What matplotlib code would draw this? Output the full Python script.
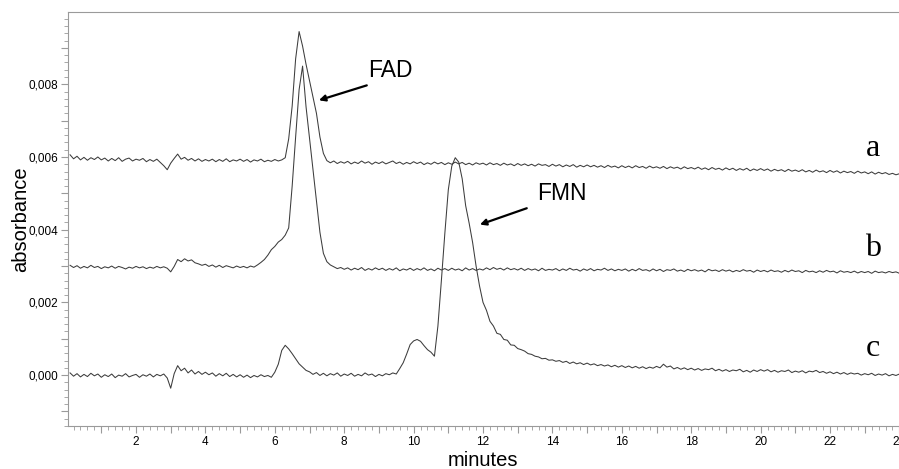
import numpy as np
import matplotlib.pyplot as plt
from matplotlib.ticker import MultipleLocator, FuncFormatter

plt.rcParams['font.family'] = ['Liberation Sans', 'DejaVu Sans']

# temps de rétention (min), un point tous les 0,1 min
minutes = np.round(np.arange(1, 241) / 10, 1)

trace_a = [
    60.6, 59.5, 60.2, 59.2, 59.9, 59.1, 59.8, 59.3, 60.0, 59.2,
    59.7, 58.9, 59.6, 59.0, 59.8, 58.8, 59.4, 59.7, 58.9, 59.4,
    59.1, 59.6, 58.7, 59.3, 58.8, 59.4, 58.5, 57.6, 56.5, 58.3,
    59.6, 60.8, 59.4, 59.9, 59.1, 59.6, 58.9, 59.5, 58.8, 59.3,
    58.9, 59.4, 58.7, 59.3, 58.8, 59.5, 58.7, 59.2, 58.9, 59.4,
    58.8, 59.3, 58.6, 59.2, 58.9, 59.4, 58.7, 59.1, 58.8, 59.3,
    58.9, 59.2, 59.8, 65.0, 74.0, 87.0, 94.5, 90.5, 85.5, 81.0,
    76.5, 72.0, 65.5, 61.0, 59.0, 58.4, 58.9, 58.2, 58.7, 58.3,
    58.8, 58.1, 58.6, 58.2, 58.9, 58.3, 58.7, 58.0, 58.6, 58.2,
    58.7, 58.1, 58.5, 58.9, 58.2, 58.6, 58.0, 58.5, 58.1, 58.7,
    58.2, 58.6, 57.9, 58.4, 58.0, 58.6, 58.1, 58.5, 57.9, 58.4,
    58.0, 58.6, 58.1, 58.5, 57.9, 58.3, 57.8, 58.4, 58.0, 58.3,
    57.8, 58.4, 57.9, 58.2, 57.7, 58.3, 57.8, 58.1, 57.6, 58.2,
    57.7, 58.1, 57.6, 58.0, 57.5, 58.1, 57.7, 57.9, 57.4, 58.0,
    57.5, 57.9, 57.3, 57.8, 57.4, 57.9, 57.2, 57.7, 57.3, 57.8,
    57.3, 57.7, 57.2, 57.6, 57.1, 57.7, 57.2, 57.5, 57.0, 57.6,
    57.1, 57.5, 57.0, 57.6, 57.1, 57.4, 56.9, 57.5, 57.0, 57.3,
    56.9, 57.4, 56.8, 57.3, 56.9, 57.2, 56.7, 57.3, 56.8, 57.1,
    56.7, 57.2, 56.6, 57.0, 56.5, 57.1, 56.6, 56.9, 56.4, 57.0,
    56.5, 56.9, 56.3, 56.8, 56.4, 56.9, 56.2, 56.7, 56.3, 56.8,
    56.3, 56.7, 56.1, 56.6, 56.2, 56.5, 56.0, 56.6, 56.1, 56.4,
    56.0, 56.5, 55.9, 56.3, 55.8, 56.4, 55.9, 56.2, 55.7, 56.3,
    55.8, 56.2, 55.6, 56.1, 55.7, 56.0, 55.5, 56.1, 55.6, 55.9,
    55.4, 55.9, 55.3, 55.8, 55.4, 55.7, 55.2, 55.5, 55.1, 55.4,
]

trace_b = [
    30.2, 29.6, 30.1, 29.4, 29.9, 29.5, 30.2, 29.6, 29.9, 29.3,
    29.8, 29.5, 30.0, 29.4, 29.9, 29.6, 29.2, 29.7, 29.4, 29.9,
    29.5, 29.8, 29.3, 29.7, 29.4, 29.9, 29.5, 29.8, 29.4, 28.4,
    29.9, 31.8, 31.2, 32.0, 31.4, 31.7, 30.9, 30.6, 30.2, 30.5,
    29.9, 30.3, 29.7, 30.2, 29.6, 30.1, 29.8, 29.5, 30.0, 29.6,
    29.9, 29.5, 30.0, 29.7, 30.3, 31.0, 31.8, 33.0, 34.5, 35.4,
    36.6, 37.3, 38.5, 40.5, 52.0, 65.5, 78.5, 85.0, 73.8, 65.2,
    56.6, 48.0, 39.3, 33.5, 31.2, 30.3, 29.8, 29.3, 29.6, 29.1,
    29.5, 28.9, 29.4, 29.0, 29.6, 28.8, 29.3, 28.9, 29.5, 29.0,
    29.4, 28.8, 29.3, 28.9, 29.5, 28.7, 29.2, 28.9, 29.4, 28.8,
    29.3, 28.9, 29.5, 28.8, 29.2, 28.7, 29.4, 28.9, 29.3, 28.8,
    29.4, 28.9, 29.2, 28.7, 29.5, 28.9, 29.3, 28.8, 29.2, 28.9,
    29.5, 29.0, 29.6, 29.1, 29.4, 28.9, 29.5, 29.0, 29.3, 28.9,
    29.4, 28.8, 29.3, 28.9, 29.2, 28.7, 29.4, 28.8, 29.1, 28.9,
    29.3, 28.7, 29.2, 28.8, 29.4, 28.9, 29.1, 28.6, 29.2, 28.8,
    29.3, 28.7, 29.1, 28.9, 29.4, 28.8, 29.2, 28.7, 29.1, 28.8,
    29.2, 28.6, 29.1, 28.7, 29.3, 28.8, 29.0, 28.6, 29.2, 28.7,
    29.1, 28.5, 29.0, 28.8, 29.2, 28.6, 28.9, 28.5, 29.1, 28.7,
    29.0, 28.6, 28.9, 28.4, 29.1, 28.7, 28.9, 28.5, 29.0, 28.6,
    28.9, 28.4, 28.8, 28.5, 29.0, 28.6, 28.8, 28.3, 28.9, 28.5,
    28.8, 28.4, 28.9, 28.5, 28.7, 28.3, 28.8, 28.4, 28.9, 28.5,
    28.7, 28.2, 28.8, 28.4, 28.6, 28.2, 28.7, 28.3, 28.8, 28.4,
    28.6, 28.1, 28.7, 28.3, 28.5, 28.2, 28.6, 28.1, 28.5, 28.2,
    28.5, 28.0, 28.6, 28.2, 28.4, 28.1, 28.5, 28.2, 28.4, 28.0,
]

trace_c = [
    0.6, -0.3, 0.4, -0.5, 0.2, -0.4, 0.5, -0.2, 0.3, -0.6,
    0.1, -0.4, 0.3, -0.7, 0.0, -0.3, 0.4, -0.5, -0.1, 0.2,
    -0.6, 0.1, -0.3, 0.3, -0.5, 0.2, -0.2, 0.3, -0.8, -3.6,
    0.4, 2.6, 1.2, 1.9, 0.6, 1.4, 0.3, 1.0, 0.2, 0.8,
    0.1, 0.6, -0.3, 0.4, -0.2, 0.5, -0.4, 0.2, -0.5, 0.1,
    -0.6, 0.0, -0.7, -0.1, -0.5, 0.1, -0.4, -0.1, -0.6, 0.8,
    3.0, 6.8, 8.2, 7.2, 5.9, 4.5, 3.1, 2.2, 1.3, 0.9,
    0.2, 0.7, -0.1, 0.5, -0.2, 0.4, 0.0, 0.6, -0.3, 0.3,
    -0.1, 0.5, -0.3, 0.2, -0.2, 0.6, 0.0, 0.3, -0.4, 0.2,
    -0.2, 0.4, 0.1, 0.6, 0.3, 1.8, 3.4, 5.8, 8.4, 9.4,
    9.8, 9.3, 8.1, 7.0, 6.3, 5.2, 13.5, 26.0, 39.0, 51.0,
    57.5, 59.8, 58.6, 54.0, 46.6, 41.8, 36.5, 30.0, 24.5, 20.0,
    17.8, 14.8, 13.5, 11.5, 11.2, 9.8, 9.6, 8.3, 8.2, 7.3,
    7.0, 6.6, 5.9, 5.7, 5.2, 5.0, 4.5, 4.6, 4.1, 4.2,
    3.8, 4.0, 3.5, 3.8, 3.2, 3.6, 3.1, 3.4, 2.9, 3.3,
    2.8, 3.1, 2.6, 2.9, 2.5, 2.8, 2.3, 2.7, 2.2, 2.6,
    2.1, 2.5, 2.0, 2.4, 1.9, 2.3, 1.8, 2.2, 1.9, 2.4,
    2.0, 3.0, 2.2, 2.5, 1.7, 2.1, 1.6, 2.0, 1.5, 1.9,
    1.4, 1.8, 1.3, 1.7, 1.5, 1.9, 1.2, 1.6, 1.1, 1.5,
    1.0, 1.4, 1.2, 1.6, 0.9, 1.3, 0.8, 1.4, 1.0, 1.5,
    1.1, 1.5, 0.9, 1.3, 0.8, 1.2, 1.0, 1.4, 0.7, 1.1,
    0.8, 1.2, 0.6, 1.1, 0.9, 1.3, 0.7, 1.0, 0.5, 0.9,
    0.4, 0.8, 0.3, 0.7, 0.2, 0.6, 0.3, 0.5, 0.0, 0.4,
    0.1, 0.5, -0.1, 0.3, 0.0, 0.4, -0.2, 0.2, -0.1, 0.3,
]

trace_names = ['a', 'b', 'c']
name_pos = [(23.24, 0.00604), (23.24, 0.00327), (23.24, 0.00052)]

# flèches (texte, position du texte, pointe de la flèche)
peak_labels = ['FAD', 'FMN']
peak_text_pos = [(8.69, 0.00838), (13.55, 0.0050)]
peak_arrow_tip = [(7.27, 0.00756), (11.91, 0.00414)]
peak_arrow_tail = [(8.65, 0.00797), (13.26, 0.00459)]

fig = plt.figure(figsize=(8.99, 4.69), dpi=100)
# l'axe dépasse à droite de l'image, comme sur l'original
ax = fig.add_axes([68 / 899, 1 - 426 / 469, 845.3 / 899, 413.7 / 469])

for tr in [trace_a, trace_b, trace_c]:
    ax.plot(minutes, np.array(tr) * 1e-4, color='#3c3c3c', lw=0.75)

ax.set_xlim(0.04, 24.4)
ax.set_ylim(-0.0014, 0.00998)

grey = '#9a9a9a'
for side in ['left', 'top', 'bottom']:
    ax.spines[side].set_color(grey)
ax.spines['right'].set_visible(False)

ax.xaxis.set_major_locator(MultipleLocator(1))
ax.xaxis.set_minor_locator(MultipleLocator(0.2))
ax.yaxis.set_major_locator(MultipleLocator(0.001))
ax.yaxis.set_minor_locator(MultipleLocator(0.0002))
ax.xaxis.set_major_formatter(FuncFormatter(
    lambda v, p: '%d' % round(v) if round(v) % 2 == 0 else ''))
ax.yaxis.set_major_formatter(FuncFormatter(
    lambda v, p: ('%.3f' % v).replace('.', ',').replace('-', '')
    if round(v * 1000) % 2 == 0 else ''))
ax.tick_params(which='major', length=5, color=grey, labelsize=8.5, pad=2)
ax.tick_params(which='minor', length=3, color=grey)

ax.set_xlabel('minutes', fontsize=14.5)
ax.set_ylabel('absorbance', fontsize=14.5)
ax.xaxis.set_label_coords(0.491, -0.06)
ax.yaxis.set_label_coords(-0.045, 0.5)

for name, (x, y) in zip(trace_names, name_pos):
    ax.text(x, y, name, family='Liberation Serif', fontsize=23,
            ha='center', va='baseline')

for lab, tp, tip, tail in zip(peak_labels, peak_text_pos, peak_arrow_tip, peak_arrow_tail):
    ax.text(tp[0], tp[1], lab, fontsize=16.5, ha='left', va='center')
    ax.annotate('', xy=tip, xytext=tail,
                arrowprops=dict(arrowstyle='-|>', color='black', lw=1.6,
                                mutation_scale=9, shrinkA=0, shrinkB=0))

fig.savefig('out.png', dpi=100)
